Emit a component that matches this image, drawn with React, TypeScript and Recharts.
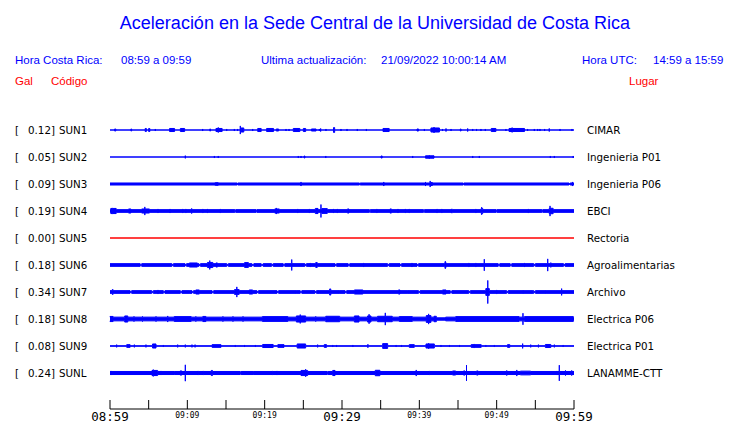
import { Area, ComposedChart, XAxis, YAxis } from "recharts";

const CODES = ["SUN1", "SUN2", "SUN3", "SUN4", "SUN5", "SUN6", "SUN7", "SUN8", "SUN9", "SUNL"];
const GAL_MAX = [0.12, 0.05, 0.09, 0.19, 0.0, 0.18, 0.34, 0.18, 0.08, 0.24];
const PLACES = [
	"CIMAR",
	"Ingenieria P01",
	"Ingenieria P06",
	"EBCI",
	"Rectoria",
	"Agroalimentarias",
	"Archivo",
	"Electrica P06",
	"Electrica P01",
	"LANAMME-CTT",
];
const MINUTE_TICKS = [0, 5, 10, 15, 20, 25, 30, 35, 40, 45, 50, 55, 60];
const TIME_LABELS = ["08:59", "09:09", "09:19", "09:29", "09:39", "09:49", "09:59"];

// background noise level of each trace (Gal)
const BASE = [0, 0, 0.03, 0.04, 0, 0.04, 0.04, 0.055, 0.008, 0.045];

// events: [start minute, end minute, Gal]
const SUN1_EVENTS = [
	[0.6, 0.75, 0.03], [2.7, 2.8, 0.03], [4.55, 4.7, 0.045], [5.0, 5.15, 0.045], [5.86, 5.86, 0.03],
	[7.7, 8.35, 0.045], [9.1, 9.65, 0.045], [11.98, 11.98, 0.03], [12.9, 13.0, 0.03], [13.7, 14.5, 0.045],
	[14.0, 14.0, 0.075], [15.09, 15.09, 0.03], [16.08, 16.08, 0.03], [16.5, 16.5, 0.03], [16.85, 16.85, 0.12],
	[16.95, 17.3, 0.06], [18.45, 18.45, 0.03], [19.1, 19.55, 0.045], [20.25, 21.15, 0.045], [21.5, 21.8, 0.03],
	[22.76, 22.76, 0.03], [23.15, 23.15, 0.03], [23.7, 24.55, 0.045], [25.0, 25.3, 0.045], [26.05, 26.65, 0.03],
	[27.07, 27.07, 0.03], [27.24, 27.24, 0.045], [27.93, 27.93, 0.03], [28.9, 29.05, 0.07], [29.87, 29.87, 0.03],
	[30.65, 30.65, 0.03], [31.98, 31.98, 0.03], [33.15, 33.15, 0.03], [35.3, 36.1, 0.045], [39.7, 39.9, 0.03],
	[40.65, 40.65, 0.03], [41.5, 42.6, 0.06], [41.9, 41.9, 0.085], [43.0, 43.0, 0.03], [43.45, 43.45, 0.045],
	[44.1, 44.1, 0.03], [45.3, 45.4, 0.03], [46.25, 46.25, 0.045], [46.9, 46.9, 0.03], [47.4, 47.4, 0.03],
	[47.97, 47.97, 0.03], [48.53, 48.53, 0.03], [49.3, 49.9, 0.045], [51.2, 51.2, 0.03], [51.6, 53.6, 0.045],
	[52.0, 52.0, 0.07], [54.0, 54.0, 0.03], [54.87, 54.87, 0.03], [55.3, 55.3, 0.03], [55.6, 55.6, 0.03],
	[56.2, 56.2, 0.03], [56.8, 56.8, 0.045], [58.19, 58.19, 0.03], [59.74, 59.74, 0.03],
];
const SUN2_EVENTS = [
	[9.74, 9.74, 0.04], [13.5, 13.5, 0.03], [14.0, 14.0, 0.03], [24.35, 24.35, 0.03], [24.7, 24.7, 0.03],
	[25.1, 25.2, 0.03], [27.9, 27.9, 0.03], [35.05, 35.2, 0.03], [39.14, 39.14, 0.03], [40.8, 41.9, 0.035],
	[41.3, 41.3, 0.05], [46.9, 46.9, 0.03], [47.76, 47.76, 0.03], [56.94, 56.94, 0.03], [57.46, 57.46, 0.03],
	[59.9, 59.9, 0.03],
];
const SUN3_EVENTS = [
	[13.6, 14.0, 0.04], [16.45, 16.55, 0.008], [24.7, 24.7, 0.06], [32.25, 32.35, 0.008], [35.4, 35.4, 0.06],
	[40.8, 40.8, 0.06], [41.4, 41.4, 0.09], [41.5, 41.7, 0.045], [45.65, 45.75, 0.008], [59.35, 59.5, 0.008],
	[59.8, 59.8, 0.06],
];
const SUN4_EVENTS = [
	[0.1, 0.8, 0.075], [0.3, 0.3, 0.09], [2.4, 2.7, 0.06], [4.1, 5.1, 0.06], [4.5, 4.5, 0.12], [6.2, 6.2, 0.06],
	[7.76, 7.76, 0.06], [9.4, 9.4, 0.06], [9.8, 9.8, 0.06], [10.56, 10.56, 0.075], [12.0, 12.0, 0.06],
	[12.6, 12.6, 0.06], [14.27, 14.27, 0.06], [16.15, 16.25, 0.01], [18.9, 19.0, 0.01], [21.3, 21.9, 0.06],
	[21.5, 21.5, 0.09], [24.27, 24.27, 0.06], [25.78, 25.78, 0.06], [26.55, 26.9, 0.075], [27.28, 27.28, 0.19],
	[27.4, 28.1, 0.07], [28.9, 28.9, 0.06], [29.4, 29.4, 0.06], [30.7, 30.9, 0.06], [33.55, 33.65, 0.01],
	[34.5, 34.5, 0.06], [36.2, 36.4, 0.06], [37.24, 37.24, 0.06], [38.2, 38.2, 0.06], [38.7, 38.7, 0.06],
	[40.55, 40.65, 0.01], [42.3, 42.3, 0.06], [42.9, 42.9, 0.06], [44.1, 44.3, 0.05], [47.3, 47.3, 0.06],
	[48.0, 48.2, 0.075], [48.06, 48.06, 0.11], [49.95, 50.05, 0.01], [54.1, 54.1, 0.06], [55.85, 55.95, 0.01],
	[56.8, 57.3, 0.08], [56.9, 56.9, 0.15],
];
const SUN5_EVENTS: number[][] = [];
const SUN6_EVENTS = [
	[3.9, 4.1, 0.01], [8.0, 8.2, 0.01], [9.7, 9.9, 0.01], [10.26, 11.3, 0.06], [11.5, 11.7, 0.01],
	[12.6, 13.3, 0.075], [12.9, 12.9, 0.13], [13.7, 13.9, 0.06], [15.1, 15.3, 0.01], [17.4, 17.9, 0.07],
	[18.35, 18.6, 0.01], [19.55, 19.8, 0.01], [20.9, 21.1, 0.01], [22.4, 22.6, 0.01], [23.5, 23.5, 0.16],
	[25.2, 25.4, 0.01], [25.9, 25.9, 0.06], [26.6, 26.8, 0.07], [29.1, 29.3, 0.01], [30.8, 31.0, 0.01],
	[32.8, 32.8, 0.06], [35.9, 36.1, 0.01], [37.5, 37.7, 0.01], [39.05, 39.05, 0.06], [39.7, 39.9, 0.01],
	[43.3, 43.45, 0.075], [43.36, 43.36, 0.11], [46.4, 46.4, 0.06], [47.3, 47.3, 0.06], [48.4, 48.4, 0.17],
	[50.2, 50.4, 0.01], [51.75, 51.95, 0.01], [53.6, 53.6, 0.06], [54.8, 55.0, 0.01], [56.6, 56.6, 0.18],
	[57.0, 57.0, 0.07], [58.65, 58.85, 0.01],
];
const SUN7_EVENTS = [
	[0.3, 0.4, 0.07], [2.6, 2.8, 0.01], [5.4, 5.6, 0.01], [6.2, 6.2, 0.06], [6.9, 7.1, 0.01], [9.1, 9.3, 0.01],
	[10.3, 10.3, 0.05], [10.6, 10.8, 0.01], [11.1, 11.55, 0.06], [13.2, 13.4, 0.01], [16.1, 16.7, 0.07],
	[16.4, 16.4, 0.15], [18.0, 18.45, 0.06], [19.0, 19.2, 0.01], [21.5, 21.5, 0.05], [21.6, 21.8, 0.01],
	[24.1, 24.1, 0.05], [24.6, 24.8, 0.01], [26.5, 26.7, 0.01], [27.07, 27.07, 0.05], [28.4, 28.55, 0.09],
	[29.66, 29.66, 0.05], [30.4, 30.6, 0.01], [31.6, 32.7, 0.06], [37.3, 37.5, 0.06], [38.5, 38.5, 0.05],
	[39.9, 40.1, 0.01], [43.0, 43.45, 0.06], [44.0, 44.2, 0.01], [44.5, 44.5, 0.05], [46.4, 46.6, 0.01],
	[48.6, 49.05, 0.1], [48.85, 48.85, 0.34], [50.0, 50.0, 0.06], [51.3, 51.5, 0.01], [51.6, 51.6, 0.05],
	[53.4, 53.4, 0.05], [54.6, 54.6, 0.05], [54.8, 55.0, 0.01], [56.4, 56.4, 0.05], [58.4, 58.4, 0.1],
];
const SUN8_EVENTS = [
	[0, 0.4, 0.075], [1.9, 2.3, 0.09], [3.1, 3.1, 0.075], [4.2, 4.2, 0.075], [5.95, 5.95, 0.075],
	[7.46, 7.46, 0.09], [8.3, 10.5, 0.07], [11.1, 11.1, 0.075], [12.0, 12.4, 0.075], [14.6, 14.6, 0.075],
	[15.9, 15.9, 0.075], [17.2, 17.2, 0.075], [19.7, 23.0, 0.07], [24.1, 25.3, 0.09], [24.6, 24.6, 0.13],
	[26.6, 26.6, 0.075], [27.9, 29.7, 0.08], [31.6, 32.2, 0.09], [33.3, 33.75, 0.09], [33.5, 33.5, 0.14],
	[34.6, 36.5, 0.08], [35.6, 35.6, 0.18], [37.4, 39.1, 0.07], [40.9, 41.5, 0.1], [41.2, 41.2, 0.15],
	[41.9, 42.2, 0.08], [42.2, 43.4, 0.035], [44.7, 52.9, 0.07], [53.4, 53.4, 0.17], [53.6, 59.9, 0.07],
];
const SUN9_EVENTS = [
	[0.86, 0.86, 0.04], [2.16, 2.6, 0.04], [3.15, 3.15, 0.04], [4.65, 4.65, 0.04], [5.5, 5.95, 0.06],
	[6.9, 6.9, 0.03], [8.75, 8.75, 0.04], [9.74, 9.74, 0.04], [10.6, 10.6, 0.04], [11.0, 11.0, 0.04],
	[13.2, 14.35, 0.04], [16.2, 16.2, 0.03], [17.4, 17.4, 0.03], [18.8, 18.8, 0.03], [19.74, 21.1, 0.045],
	[21.7, 22.5, 0.04], [24.2, 25.3, 0.06], [26.85, 26.85, 0.04], [27.7, 28.0, 0.04], [28.8, 28.8, 0.03],
	[29.3, 29.3, 0.03], [31.4, 31.4, 0.03], [33.3, 33.4, 0.04], [35.26, 35.9, 0.07], [37.0, 37.0, 0.03],
	[37.7, 37.7, 0.03], [38.7, 39.35, 0.04], [40.86, 41.94, 0.06], [41.2, 41.2, 0.08], [42.8, 42.8, 0.03],
	[43.9, 43.9, 0.03], [45.2, 45.2, 0.03], [46.7, 48.0, 0.04], [47.1, 47.1, 0.06], [48.6, 48.6, 0.03],
	[49.7, 49.7, 0.03], [51.4, 51.7, 0.04], [53.36, 53.36, 0.07], [54.4, 54.4, 0.04], [55.4, 55.4, 0.04],
	[56.3, 57.0, 0.045], [57.46, 57.46, 0.04], [58.6, 58.6, 0.03],
];
const SUNL_EVENTS = [
	[0.13, 0.13, 0.06], [5.43, 6.16, 0.075], [5.6, 5.6, 0.1], [6.6, 6.6, 0.06], [8.3, 8.3, 0.05],
	[9.05, 9.3, 0.06], [9.74, 9.74, 0.24], [11.4, 11.4, 0.06], [12.07, 12.07, 0.06], [13.1, 13.25, 0.075],
	[16.85, 16.95, 0.02], [18.6, 18.6, 0.05], [21.0, 21.0, 0.06], [21.6, 21.6, 0.06], [24.7, 25.56, 0.075],
	[25.3, 25.3, 0.11], [28.1, 28.2, 0.02], [28.8, 29.1, 0.075], [34.3, 34.9, 0.08], [39.6, 39.6, 0.09],
	[41.3, 41.3, 0.06], [44.3, 44.7, 0.06], [45.8, 45.8, 0.075], [46.1, 46.1, 0.23], [47.4, 47.6, 0.06],
	[51.3, 51.3, 0.075], [52.6, 52.6, 0.09], [53.06, 54.4, 0.055], [57.8, 57.8, 0.06], [58.1, 58.1, 0.23],
	[58.9, 58.9, 0.075], [59.7, 59.7, 0.075],
];
const EVENTS = [
	SUN1_EVENTS, SUN2_EVENTS, SUN3_EVENTS, SUN4_EVENTS, SUN5_EVENTS,
	SUN6_EVENTS, SUN7_EVENTS, SUN8_EVENTS, SUN9_EVENTS, SUNL_EVENTS,
];

const W = 740;
const H = 423;
const PX_PER_GAL = 34;
const ROW_PX = 27;
const ROW_GAP = ROW_PX / PX_PER_GAL;
const PLOT_TOP = 117;
const FIRST_ROW = 130;
const AXIS_Y = 409;
const LAST = CODES.length - 1;
const centerOf = (i: number) => (LAST - i) * ROW_GAP;
const Y_MIN = -(AXIS_Y - (FIRST_ROW + ROW_PX * LAST)) / PX_PER_GAL;
const Y_MAX = centerOf(0) + (FIRST_ROW - PLOT_TOP) / PX_PER_GAL;
const CENTERS = CODES.map((_, i) => centerOf(i));

const buildTrace = (i: number) => {
	const c = centerOf(i);
	const base = BASE[i];
	const ev = EVENTS[i];
	const amp = (pred: (e: number[]) => boolean) => {
		const cov = ev.filter(pred);
		return cov.length ? Math.max(...cov.map((e) => e[2])) : base;
	};
	const stops = Array.from(new Set([0, 60, ...ev.flatMap((e) => [e[0], e[1]])])).sort((a, b) => a - b);
	const pts: { t: number; a: number; r: number[] }[] = [];
	stops.forEach((t) => {
		const l = amp((e) => e[0] < t && e[1] >= t);
		const p = amp((e) => e[0] <= t && e[1] >= t);
		const r = amp((e) => e[0] <= t && e[1] > t);
		[l, p, r].forEach((a) => {
			const last = pts[pts.length - 1];
			if (last && last.t === t && last.a === a) return;
			pts.push({ t, a, r: [c - a, c + a] });
		});
	});
	return pts;
};

const TimeTick = (props: any) => {
	const { x, y, payload } = props;
	const m = payload.value;
	const big = m % 30 === 0;
	return (
		<g>
			<line x1={x} y1={y - 9} x2={x} y2={y} stroke="#000" strokeWidth={1} />
			{m % 10 === 0 && (
				<text
					x={x}
					y={big ? y + 12 : y + 9}
					textAnchor="middle"
					fontFamily="DejaVu Sans Mono"
					fontSize={big ? 12.5 : 8}
					fill="#000"
				>
					{TIME_LABELS[m / 10]}
				</text>
			)}
		</g>
	);
};

const rowIndex = (v: number) => Math.round(LAST - v / ROW_GAP);

const CodeTick = (props: any) => {
	const { y, payload } = props;
	const i = rowIndex(payload.value);
	return (
		<g fontFamily="DejaVu Sans" fontSize={10.3} fill="#000">
			<text x={15} y={y + 4}>[</text>
			<text x={55} y={y + 4} textAnchor="end">
				{GAL_MAX[i].toFixed(2)}]
			</text>
			<text x={59} y={y + 4}>{CODES[i]}</text>
		</g>
	);
};

const PlaceTick = (props: any) => {
	const { y, payload } = props;
	const i = rowIndex(payload.value);
	return (
		<text x={587} y={y + 4} fontFamily="DejaVu Sans" fontSize={10.3} fill="#000">
			{PLACES[i]}
		</text>
	);
};

export default function App() {
	return (
		<div style={{ position: "fixed", left: 0, top: 0, width: W, height: H, background: "#fff" }}>
			<ComposedChart width={W} height={H} margin={{ top: PLOT_TOP, right: 0, bottom: 0, left: 0 }}>
				<XAxis
					dataKey="t"
					type="number"
					domain={[0, 60]}
					ticks={MINUTE_TICKS}
					interval={0}
					height={H - AXIS_Y}
					tickSize={0}
					tickMargin={0}
					tickLine={false}
					axisLine={{ stroke: "#000" }}
					tick={<TimeTick />}
				/>
				<YAxis
					yAxisId="l"
					type="number"
					domain={[Y_MIN, Y_MAX]}
					allowDataOverflow
					ticks={CENTERS}
					interval={0}
					width={110}
					axisLine={false}
					tickLine={false}
					tick={<CodeTick />}
				/>
				<YAxis
					yAxisId="r"
					orientation="right"
					type="number"
					domain={[Y_MIN, Y_MAX]}
					allowDataOverflow
					ticks={CENTERS}
					interval={0}
					width={W - 574}
					axisLine={false}
					tickLine={false}
					tick={<PlaceTick />}
				/>
				{CODES.map((code, i) => {
					const color = i === 4 ? "#ff0000" : "#0000ff";
					return (
						<Area
							key={code}
							yAxisId="l"
							data={buildTrace(i)}
							dataKey="r"
							type="linear"
							stroke={color}
							strokeWidth={1}
							fill={color}
							fillOpacity={1}
							dot={false}
							activeDot={false}
							isAnimationActive={false}
						/>
					);
				})}
			</ComposedChart>
			<svg
				width={W}
				height={100}
				style={{ position: "absolute", left: 0, top: 0, pointerEvents: "none" }}
				fontFamily="Liberation Sans"
			>
				<text x={375} y={29} textAnchor="middle" fontSize={18} fill="#0000ff">
					Aceleración en la Sede Central de la Universidad de Costa Rica
				</text>
				<g fontSize={11.5} fill="#0000ff">
					<text x={15} y={64}>Hora Costa Rica:</text>
					<text x={121} y={64}>08:59 a 09:59</text>
					<text x={261} y={64}>Ultima actualización:</text>
					<text x={381} y={64}>21/09/2022 10:00:14 AM</text>
					<text x={582} y={64}>Hora UTC:</text>
					<text x={653} y={64}>14:59 a 15:59</text>
				</g>
				<g fontSize={11.5} fill="#ff0000">
					<text x={15} y={85}>Gal</text>
					<text x={51} y={85}>Código</text>
					<text x={629} y={85}>Lugar</text>
				</g>
			</svg>
		</div>
	);
}
